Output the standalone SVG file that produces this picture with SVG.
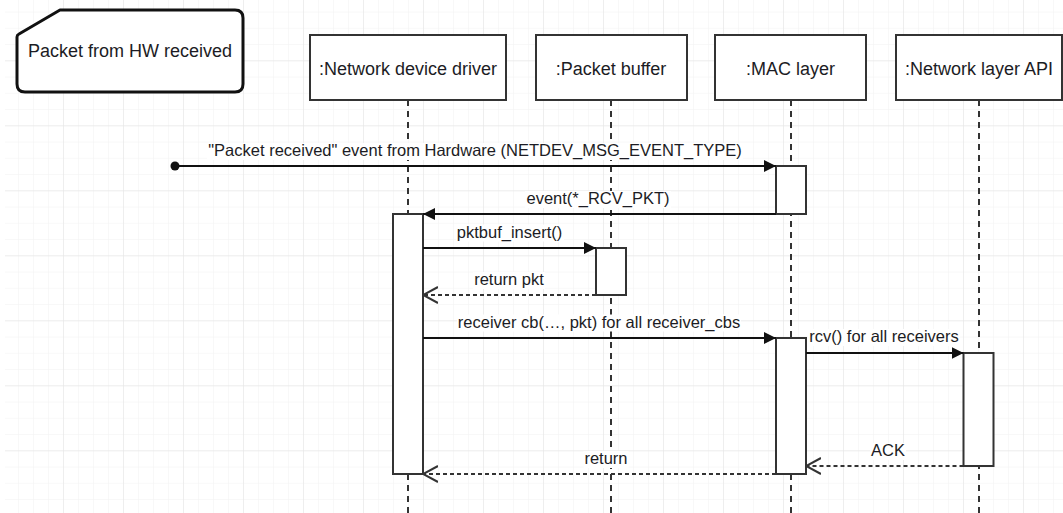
<svg xmlns="http://www.w3.org/2000/svg" width="1063" height="513" viewBox="0 0 1063 513">
  <style>
    .txt { font-family: "Liberation Sans", Arial, sans-serif; fill: #1c1c24; }
    .node { font-size: 18px; text-anchor: middle; }
    .lbl { font-size: 16.5px; text-anchor: middle; }
    .lbg { fill: #ffffff; stroke: none; }
    .head { fill: #ffffff; stroke: #333333; stroke-width: 2; }
    .act { fill: #ffffff; stroke: #333333; stroke-width: 2; }
    .life { stroke: #333333; stroke-width: 2; stroke-dasharray: 6 5; fill: none; }
    .msg { stroke: #111111; stroke-width: 2; fill: none; }
    .ret { stroke: #333333; stroke-width: 2; stroke-dasharray: 4 3; fill: none; }
  </style>
  <defs>
    <pattern id="gMinor" x="3" y="11.55" width="15" height="16.25" patternUnits="userSpaceOnUse">
      <line x1="0" y1="0" x2="15" y2="0" stroke="#f1f1f1" stroke-width="1"/>
      <line x1="0" y1="0" x2="0" y2="16.25" stroke="#f1f1f1" stroke-width="1"/>
    </pattern>
    <pattern id="gMajor" x="3" y="60.3" width="60" height="65" patternUnits="userSpaceOnUse">
      <line x1="0" y1="0" x2="60" y2="0" stroke="#e3e3e3" stroke-width="1"/>
      <line x1="0" y1="0" x2="0" y2="65" stroke="#e3e3e3" stroke-width="1"/>
    </pattern>
    <marker id="fill" viewBox="0 0 12 12" refX="12" refY="6" markerWidth="12" markerHeight="12" markerUnits="userSpaceOnUse" orient="auto">
      <path d="M0,0 L12,6 L0,12 Z" fill="#111111"/>
    </marker>
    <marker id="open" viewBox="0 0 16 18" refX="15" refY="9" markerWidth="16" markerHeight="18" markerUnits="userSpaceOnUse" orient="auto">
      <path d="M0,1 L15,9 L0,17" fill="none" stroke="#333333" stroke-width="2"/>
    </marker>
  </defs>

  <rect x="0" y="0" width="1063" height="513" fill="#ffffff"/>
  <rect x="5" y="0" width="1058" height="513" fill="url(#gMinor)"/>
  <rect x="5" y="0" width="1058" height="513" fill="url(#gMajor)"/>

  <g id="note">
    <path d="M60,10 L235,10 Q243,10 243,18 L243,84 Q243,92 235,92 L25,92 Q17,92 17,84 L17,37 Q17,35 19,34 Z" fill="#ffffff" stroke="#111111" stroke-width="3" stroke-linejoin="round"/>
    <text class="txt" x="28" y="57" font-size="18">Packet from HW received</text>
  </g>

  <g id="lifelines">
    <line class="life" x1="408" y1="100" x2="408" y2="513"/>
    <line class="life" x1="611" y1="100" x2="611" y2="513"/>
    <line class="life" x1="791" y1="100" x2="791" y2="513"/>
    <line class="life" x1="979" y1="100" x2="979" y2="513"/>
  </g>

  <g id="driver">
    <rect class="head" x="310" y="35" width="196" height="65"/>
    <text class="txt node" x="408" y="75">:Network device driver</text>
    <rect class="act" x="393" y="214" width="30" height="260"/>
  </g>
  <g id="pktbuf">
    <rect class="head" x="536" y="35" width="151" height="65"/>
    <text class="txt node" x="611" y="75">:Packet buffer</text>
    <rect class="act" x="596" y="248" width="30" height="47"/>
  </g>
  <g id="mac">
    <rect class="head" x="715" y="35" width="151" height="65"/>
    <text class="txt node" x="790.5" y="75">:MAC layer</text>
    <rect class="act" x="776" y="166" width="30" height="48"/>
    <rect class="act" x="776" y="338" width="30" height="136"/>
  </g>
  <g id="netapi">
    <rect class="head" x="896" y="35" width="166" height="65"/>
    <text class="txt node" x="979" y="75">:Network layer API</text>
    <rect class="act" x="963.5" y="353" width="30" height="113"/>
  </g>

  <g id="connectors">
    <circle cx="175" cy="166" r="4.5" fill="#111111"/>
    <line class="msg" x1="175" y1="166" x2="776" y2="166" marker-end="url(#fill)"/>
    <rect class="lbg" x="207" y="143" width="536" height="17"/>
    <text class="txt lbl" x="475" y="156">"Packet received" event from Hardware (NETDEV_MSG_EVENT_TYPE)</text>

    <line class="msg" x1="776" y1="214" x2="423" y2="214" marker-end="url(#fill)"/>
    <rect class="lbg" x="525" y="191" width="146" height="17"/>
    <text class="txt lbl" x="598" y="204">event(*_RCV_PKT)</text>

    <line class="msg" x1="423" y1="248" x2="596" y2="248" marker-end="url(#fill)"/>
    <rect class="lbg" x="456" y="224.5" width="108" height="17"/>
    <text class="txt lbl" x="509.5" y="237.5">pktbuf_insert()</text>

    <line class="ret" x1="596" y1="295" x2="423" y2="295" marker-end="url(#open)"/>
    <rect class="lbg" x="473" y="272" width="72" height="17"/>
    <text class="txt lbl" x="509" y="285">return pkt</text>

    <line class="msg" x1="423" y1="338" x2="776" y2="338" marker-end="url(#fill)"/>
    <rect class="lbg" x="457" y="314.5" width="284" height="17"/>
    <text class="txt lbl" x="599" y="327.5">receiver cb(…, pkt) for all receiver_cbs</text>

    <line class="msg" x1="806" y1="353" x2="963.5" y2="353" marker-end="url(#fill)"/>
    <rect class="lbg" x="808" y="329" width="152" height="17"/>
    <text class="txt lbl" x="884" y="342">rcv() for all receivers</text>

    <line class="ret" x1="963.5" y1="466" x2="806" y2="466" marker-end="url(#open)"/>
    <rect class="lbg" x="870" y="443" width="36" height="17"/>
    <text class="txt lbl" x="888" y="456">ACK</text>

    <line class="ret" x1="776" y1="474" x2="423" y2="474" marker-end="url(#open)"/>
    <rect class="lbg" x="583.5" y="451" width="45" height="17"/>
    <text class="txt lbl" x="606" y="464">return</text>
  </g>
</svg>
